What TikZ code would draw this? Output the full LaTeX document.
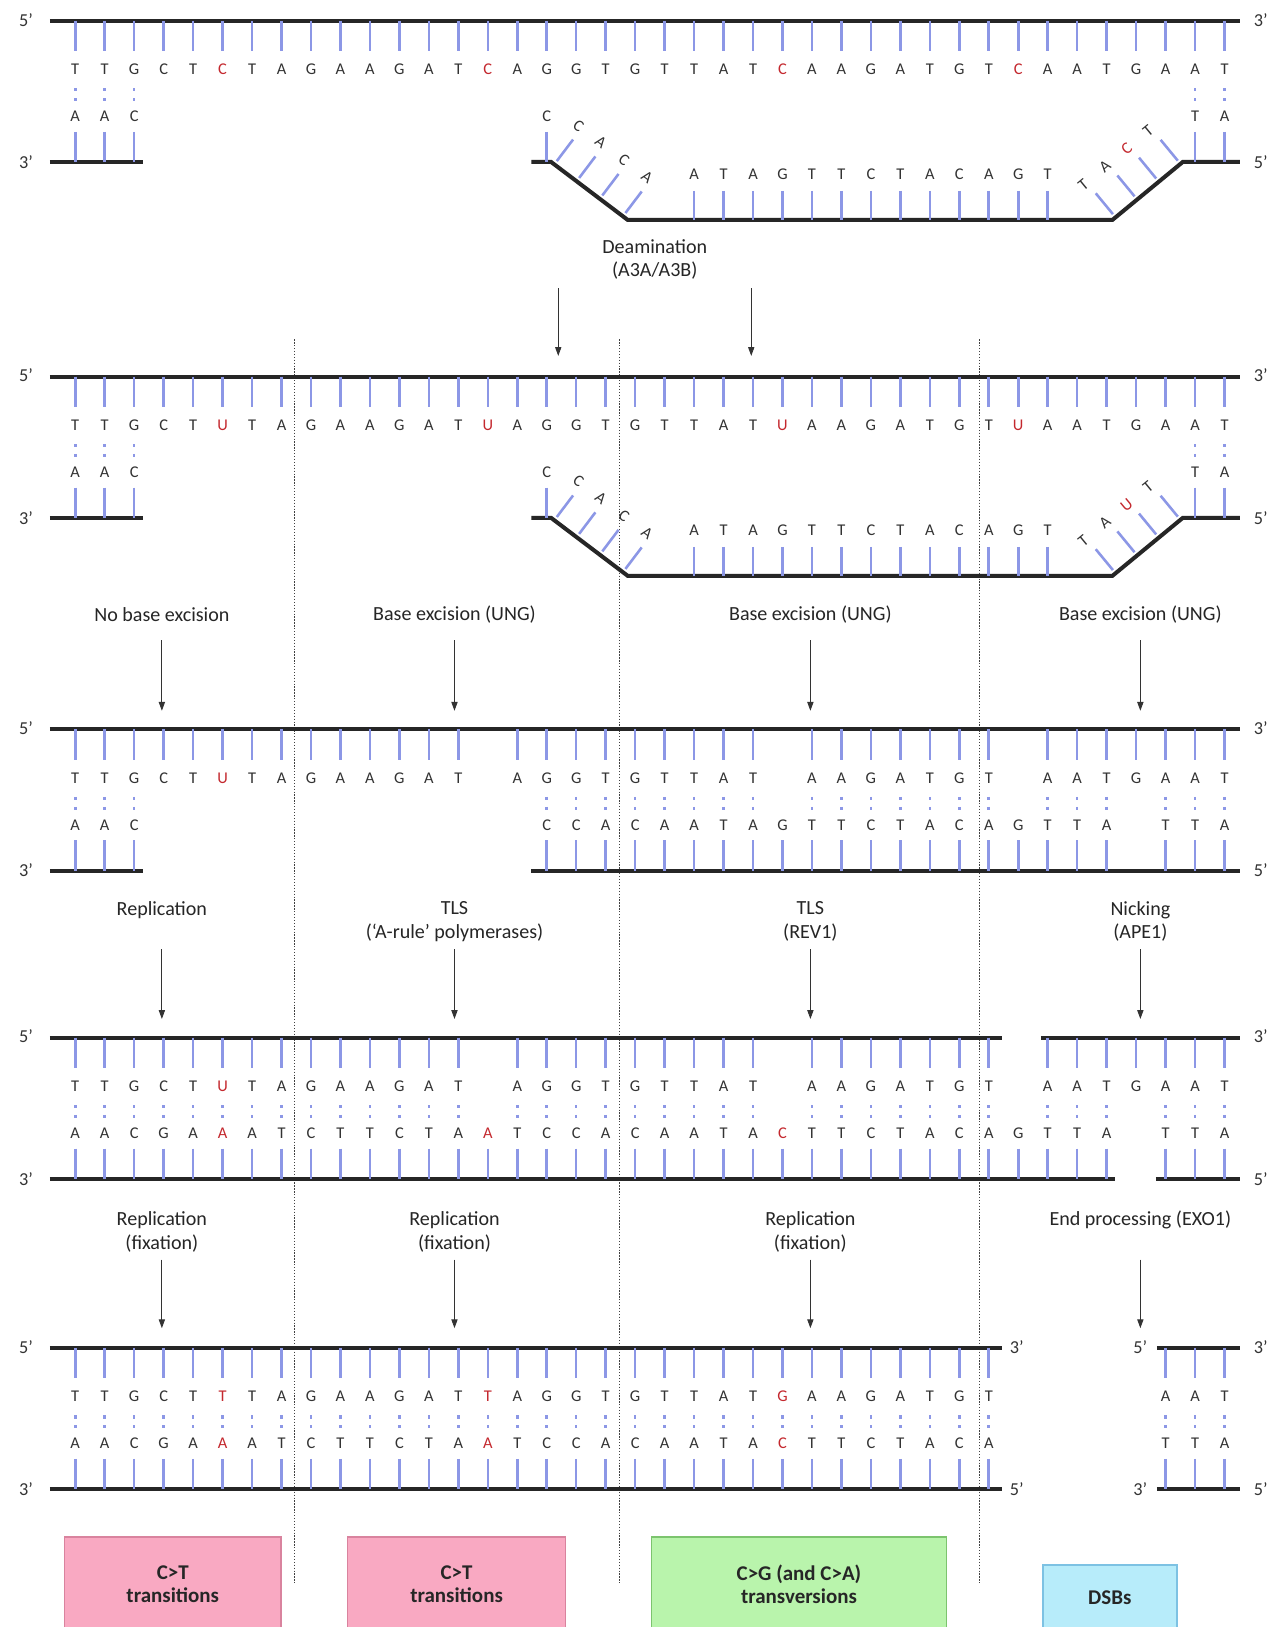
\documentclass[tikz,border=0pt]{standalone}
\usepackage{fontspec}
\setmainfont{Carlito}
\usetikzlibrary{arrows.meta}
\definecolor{bondblue}{HTML}{8C97E6}
\definecolor{basered}{HTML}{C4282E}
\definecolor{ctfill}{HTML}{F9A9C2}
\definecolor{ctdraw}{HTML}{D9839E}
\definecolor{cgfill}{HTML}{B9F4AC}
\definecolor{cgdraw}{HTML}{7CC46E}
\definecolor{dsbfill}{HTML}{B7ECFA}
\definecolor{dsbdraw}{HTML}{7DC2E3}
\tikzset{strand/.style={line width=2.2pt,draw=black!85},bond/.style={line width=1.4pt,draw=bondblue},pair/.style={bond,dash pattern=on 1.8pt off 3.6pt},base/.style={inner sep=0pt,font=\fontsize{9}{10}\selectfont,text=black!80},endlab/.style={inner sep=0pt,font=\fontsize{10}{12}\selectfont,text=black!80},lab/.style={align=center,inner sep=1pt,font=\fontsize{11}{13}\selectfont,text=black!85},arr/.style={-{Triangle[length=1.7mm,width=1.2mm]},line width=0.5pt,draw=black!80},sep/.style={line width=0.6pt,draw=black!75,dash pattern=on 0.7pt off 0.9pt},outcome/.style={draw,line width=0.9pt,align=center,font=\bfseries\fontsize{11.5}{12.5}\selectfont,text=black!85}}
\newcommand\colx[1]{(72.5+28.4*(#1-1))}
\newcommand\basetext[1]{\ifnum`#1>96 \textcolor{basered}{\uppercase{#1}}\else#1\fi}
% name, first column, letter y, tick from, tick to, bases ("-" = gap, small = red)
\newcommand\dnabases[6]{\foreach \nt [count=\ci from #2] in {#6}{\if-\nt\else\draw[bond] ({\colx{\ci}},#4) -- ({\colx{\ci}},#5);\node[base] (#1\ci) at ({\colx{\ci}},#3) {\expandafter\basetext\expandafter{\nt}};\fi}}
% name, corner x, corner y, ux, uy, angle, d/base
\newcommand\dnaslant[7]{\foreach \dd/\nt [count=\kk] in {#7}{\draw[bond] ({#2+\dd*(#4)+4*(#5)},{#3+\dd*(#5)-4*(#4)}) -- ({#2+\dd*(#4)+30*(#5)},{#3+\dd*(#5)-30*(#4)});\node[base,rotate=#6] (#1\kk) at ({#2+(\dd-4)*(#4)+44*(#5)},{#3+(\dd-4)*(#5)-44*(#4)}) {\expandafter\basetext\expandafter{\nt}};}}
\newcommand\dnapairs[1]{\foreach \ci in {#1}{\draw[pair] ({\colx{\ci}},65) -- ({\colx{\ci}},79);}}
\newcommand\dnaends[2]{\foreach \ex/\ey/\et [count=\kk] in {#2}{\node[endlab] (#1\kk) at (\ex,\ey) {{\et}’};}}
\newcommand\bubblerow[3]{%
\draw[strand] (48,0) -- (1195,0);\dnabases{#1t}{1}{47}{0}{29}{#2}
\draw[strand] (48,136) -- (138,136);\draw[strand] (512,136) -- (531,136) -- (605,192) -- (1072,192) -- (1140,136) -- (1195,136);
\dnabases{#1b}{1}{92}{107}{136}{A,A,C}\dnabases{#1c}{17}{92}{107}{136}{C}\dnabases{#1e}{39}{92}{107}{136}{T,A}
\dnaslant{#1l}{531}{136}{0.797}{0.603}{-37}{4/C,31/A,59/C,87/A}
\dnabases{#1m}{22}{148}{164}{192}{A,T,A,G,T,T,C,T,A,C,A,G,T}
\dnaslant{#1r}{1072}{192}{0.772}{-0.636}{39.5}{4/T,31/A,58/#3,85/T}
\dnapairs{1,2,3,39,40}
\dnaends{#1n}{25/-1/5,1215/-1/3,25/136/3,1215/136/5}}

\begin{document}
\begin{tikzpicture}[x=0.2mm,y=-0.2mm]
\useasboundingbox (0,0) rectangle (1236,1568);
\fill[white] (0,0) rectangle (1236,1568);
\foreach \sx in {284,597,944} \draw[sep] (\sx,327) -- (\sx,1525);
% deamination
\begin{scope}[shift={(0,20)}]\bubblerow{ra}{T,T,G,C,T,c,T,A,G,A,A,G,A,T,c,A,G,G,T,G,T,T,A,T,c,A,A,G,A,T,G,T,c,A,A,T,G,A,A,T}{c}\end{scope}
\node[lab] (deam) at (631,250) {Deamination\\(A3A/A3B)};
\coordinate (da1) at (538,278);\coordinate (da2) at (538,343);\coordinate (db1) at (724,278);\coordinate (db2) at (724,343);
\draw[arr] (da1) -- (da2);\draw[arr] (db1) -- (db2);
\begin{scope}[shift={(0,363)}]\bubblerow{rb}{T,T,G,C,T,u,T,A,G,A,A,G,A,T,u,A,G,G,T,G,T,T,A,T,u,A,A,G,A,T,G,T,u,A,A,T,G,A,A,T}{u}\end{scope}
\foreach \lx/\lt [count=\kk] in {156/No base excision,438/Base excision (UNG),781/Base excision (UNG),1099/Base excision (UNG)}{\node[lab] (ex\kk) at (\lx,592) {\lt};\coordinate (ex\kk-s) at (\lx,617);\coordinate (ex\kk-e) at (\lx,685);\draw[arr] (ex\kk-s) -- (ex\kk-e);}
% excision
\begin{scope}[shift={(0,703)}]
\draw[strand] (48,0) -- (1195,0);\draw[strand] (48,136) -- (138,136);\draw[strand] (512,136) -- (1195,136);
\dnabases{rct}{1}{47}{0}{29}{T,T,G,C,T,u,T,A,G,A,A,G,A,T,-,A,G,G,T,G,T,T,A,T,-,A,A,G,A,T,G,T,-,A,A,T,G,A,A,T}
\dnabases{rcb}{1}{92}{107}{136}{A,A,C}
\dnabases{rcc}{17}{92}{107}{136}{C,C,A,C,A,A,T,A,G,T,T,C,T,A,C,A,G,T,T,A,-,T,T,A}
\dnapairs{1,2,3}\dnapairs{17,...,24}\dnapairs{26,...,32}\dnapairs{34,35,36,38,39,40}
\dnaends{rcn}{25/-1/5,1215/-1/3,25/136/3,1215/136/5}
\end{scope}
\foreach \lx/\ly/\lt [count=\kk] in {156/877/Replication,438/888/{TLS\\(‘A-rule’ polymerases)},781/888/{TLS\\(REV1)},1099/888/{Nicking\\(APE1)}}{\node[lab] (tl\kk) at (\lx,\ly) {\lt};\coordinate (tl\kk-s) at (\lx,915);\coordinate (tl\kk-e) at (\lx,982);\draw[arr] (tl\kk-s) -- (tl\kk-e);}
% bypass and nicking
\begin{scope}[shift={(0,1000)}]
\draw[strand] (48,0) -- (966,0);\draw[strand] (1003,0) -- (1195,0);\draw[strand] (48,136) -- (1075,136);\draw[strand] (1114,136) -- (1195,136);
\dnabases{rdt}{1}{47}{0}{29}{T,T,G,C,T,u,T,A,G,A,A,G,A,T,-,A,G,G,T,G,T,T,A,T,-,A,A,G,A,T,G,T,-,A,A,T,G,A,A,T}
\dnabases{rdb}{1}{92}{107}{136}{A,A,C,G,A,a,A,T,C,T,T,C,T,A,a,T,C,C,A,C,A,A,T,A,c,T,T,C,T,A,C,A,G,T,T,A,-,T,T,A}
\dnapairs{1,...,14}\dnapairs{16,...,24}\dnapairs{26,...,32}\dnapairs{34,35,36,38,39,40}
\dnaends{rdn}{25/-1/5,1215/-1/3,25/136/3,1215/136/5}
\end{scope}
\foreach \lx/\ly/\lt [count=\kk] in {156/1187/{Replication\\(fixation)},438/1187/{Replication\\(fixation)},781/1187/{Replication\\(fixation)},1099/1176/End processing (EXO1)}{\node[lab] (fx\kk) at (\lx,\ly) {\lt};\coordinate (fx\kk-s) at (\lx,1214);\coordinate (fx\kk-e) at (\lx,1280);\draw[arr] (fx\kk-s) -- (fx\kk-e);}
% fixed
\begin{scope}[shift={(0,1299)}]
\draw[strand] (48,0) -- (966,0);\draw[strand] (1115,0) -- (1195,0);\draw[strand] (48,136) -- (966,136);\draw[strand] (1115,136) -- (1195,136);
\dnabases{ret}{1}{47}{0}{29}{T,T,G,C,T,t,T,A,G,A,A,G,A,T,t,A,G,G,T,G,T,T,A,T,g,A,A,G,A,T,G,T}
\dnabases{reu}{38}{47}{0}{29}{A,A,T}
\dnabases{reb}{1}{92}{107}{136}{A,A,C,G,A,a,A,T,C,T,T,C,T,A,a,T,C,C,A,C,A,A,T,A,c,T,T,C,T,A,C,A}
\dnabases{rev}{38}{92}{107}{136}{T,T,A}
\dnapairs{1,...,32}\dnapairs{38,39,40}
\dnaends{ren}{25/-1/5,980/-1/3,25/136/3,980/136/5,1099/-1/5,1215/-1/3,1099/136/3,1215/136/5}
\end{scope}
% outcomes
\node[outcome,fill=ctfill,draw=ctdraw,minimum width=41.8mm,minimum height=18.2mm] (ct1) at (166.5,1526.5) {C>T\\transitions};
\node[outcome,fill=ctfill,draw=ctdraw,minimum width=42mm,minimum height=18.2mm] (ct2) at (440,1526.5) {C>T\\transitions};
\node[outcome,fill=cgfill,draw=cgdraw,minimum width=56.8mm,minimum height=18.2mm] (cg) at (770,1526.5) {C>G (and C>A)\\transversions};
\node[outcome,fill=dsbfill,draw=dsbdraw,minimum width=25.8mm,minimum height=12.8mm] (dsb) at (1069.5,1540) {DSBs};
\end{tikzpicture}
\end{document}
